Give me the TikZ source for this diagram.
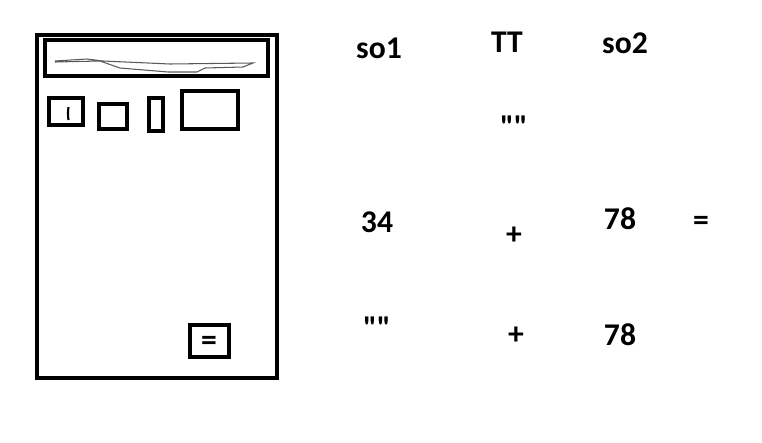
\documentclass[tikz,border=0pt]{standalone}
\usepackage{fontspec}
\setmainfont{Carlito}[Ligatures=TeXOff]
\newcommand{\CALCkey}[2]{\draw[line width=2.2pt] (#1) rectangle (#2);}
\tikzset{lbl/.style={font=\fontsize{18}{21}\selectfont\bfseries,inner sep=0pt}}

\begin{document}
\begin{tikzpicture}[x=0.02cm,y=-0.02cm]
  \useasboundingbox (0,0) rectangle (762,443);
  % calculator
  \draw[line width=2.2pt] (37,35) rectangle (277,378);
  \draw[line width=2.2pt] (45,40) rectangle (268,76);
  \draw[gray!70!black,line width=0.6pt] (55,61)--(87,59)--(103,61)--(170,64)--(253,63)--(243,67)--(205,68)--(197,72)--(168,72)--(120,68)--(100,61)--(55,62);
  \CALCkey{49,98}{83,125}\CALCkey{99,104}{127,129}\CALCkey{149,98}{163,131}\CALCkey{182,91}{238,129}
  \draw[line width=1.2pt] (68.5,107) to[bend right=8] (68.5,120);
  \CALCkey{190,325}{229,357}
  \node[lbl] (eqkey) at (209,343) {=};
  % labels
  \node[lbl] (so1) at (379,48) {so1};
  \node[lbl] (tt) at (507,42) {TT};
  \node[lbl] (so2) at (625,43) {so2};
  \node[lbl] (ttval) at (514,127) {""};
  \node[lbl] (aa) at (377,222) {34};
  \node[lbl] (opa) at (514,236) {+};
  \node[lbl] (ba) at (620,219) {78};
  \node[lbl] (eqa) at (701,223) {=};
  \node[lbl] (ab) at (377,328) {""};
  \node[lbl] (opb) at (516,336) {+};
  \node[lbl] (bb) at (620,335) {78};
\end{tikzpicture}
\end{document}
